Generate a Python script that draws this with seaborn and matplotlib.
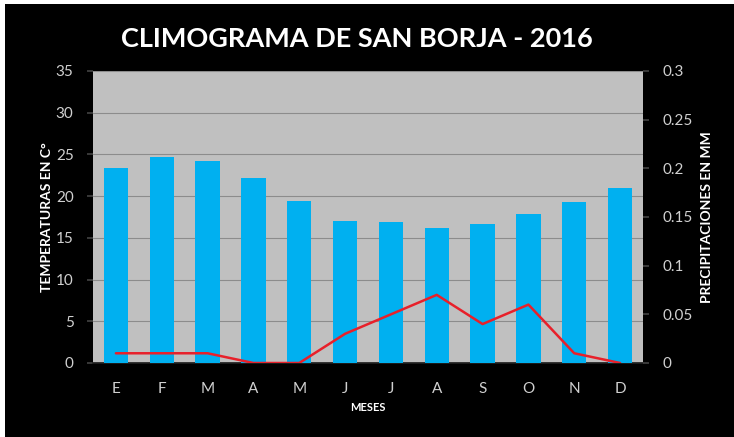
import matplotlib
matplotlib.use('Agg')
import matplotlib.pyplot as plt
import numpy as np
import pandas as pd
import seaborn as sns
from matplotlib.patches import Rectangle

months = ['E', 'F', 'M', 'A', 'M', 'J', 'J', 'A', 'S', 'O', 'N', 'D']
temperatures = [23.4, 24.7, 24.2, 22.2, 19.4, 17.0, 16.9, 16.2, 16.7, 17.9, 19.3, 21.0]
precipitation = [0.01, 0.01, 0.01, 0.0, 0.0, 0.03, 0.05, 0.07, 0.04, 0.06, 0.01, 0.0]
temp_ticks = [0, 5, 10, 15, 20, 25, 30, 35]
precip_ticks = [0, 0.05, 0.1, 0.15, 0.2, 0.25, 0.3]
precip_labels = ['0', '0.05', '0.1', '0.15', '0.2', '0.25', '0.3']


def run():
    sns.set_theme(style='white')
    plt.rcParams['font.family'] = ['Lato', 'DejaVu Sans']

    df = pd.DataFrame({'pos': np.arange(len(months)), 'temp': temperatures, 'precip': precipitation})

    fig = plt.figure(figsize=(7.34, 4.37), dpi=100, facecolor='white')
    fig.patches.append(Rectangle((5 / 734, 0), 1, 433 / 437, transform=fig.transFigure,
                                 facecolor='black', edgecolor='none', zorder=-10))
    ax = fig.add_axes([93 / 734, 74 / 437, 550 / 734, 292 / 437])
    ax.set_facecolor('#c0c0c0')

    sns.barplot(data=df, x='pos', y='temp', color='#00b0f0', saturation=1, width=0.53,
                linewidth=0, edgecolor='none', ax=ax, zorder=3)
    ax.set_ylim(0, 35)
    ax.set_yticks(temp_ticks)
    ax.yaxis.grid(True, color='#8c8c8c', linewidth=0.8, zorder=0)
    ax.set_axisbelow(True)
    ax.set_xticks(np.arange(len(months)))
    ax.set_xticklabels(months)
    ax.tick_params(axis='both', colors='#d0d0d0', labelsize=11, length=0)
    ax.tick_params(axis='x', pad=14)
    ax.tick_params(axis='y', length=4, color='#404040', pad=10)
    for s in ['top', 'right', 'left']:
        ax.spines[s].set_visible(False)
    ax.spines['bottom'].set_color('#202020')
    ax.set_xlabel('MESES', color='white', fontsize=8, fontweight='bold', labelpad=4)
    ax.set_ylabel('TEMPERATURAS EN C°', color='white', fontsize=10, fontweight='bold', labelpad=2)

    ax2 = ax.twinx()
    sns.lineplot(data=df, x='pos', y='precip', color='#e8202a', linewidth=1.8, ax=ax2, zorder=5)
    ax2.set_ylim(0, 0.3)
    ax2.set_yticks(precip_ticks)
    ax2.set_yticklabels(precip_labels)
    ax2.tick_params(axis='y', colors='#d0d0d0', labelsize=11, length=4, pad=10)
    ax2.tick_params(axis='y', color='#404040')
    for s in ['top', 'left', 'right', 'bottom']:
        ax2.spines[s].set_visible(False)
    ax2.set_ylabel('PRECIPITACIONES EN MM', color='white', fontsize=10, fontweight='bold',
                   rotation=90, labelpad=6)
    ax.set_xlim(-0.5, len(months) - 0.5)

    fig.text(0.486, 0.91, 'CLIMOGRAMA DE SAN BORJA - 2016', color='white', fontsize=19.5,
             fontweight='bold', ha='center', va='center')

    fig.savefig('out.png', dpi=100, facecolor=fig.get_facecolor())
    plt.close(fig)


if __name__ == '__main__':
    run()
